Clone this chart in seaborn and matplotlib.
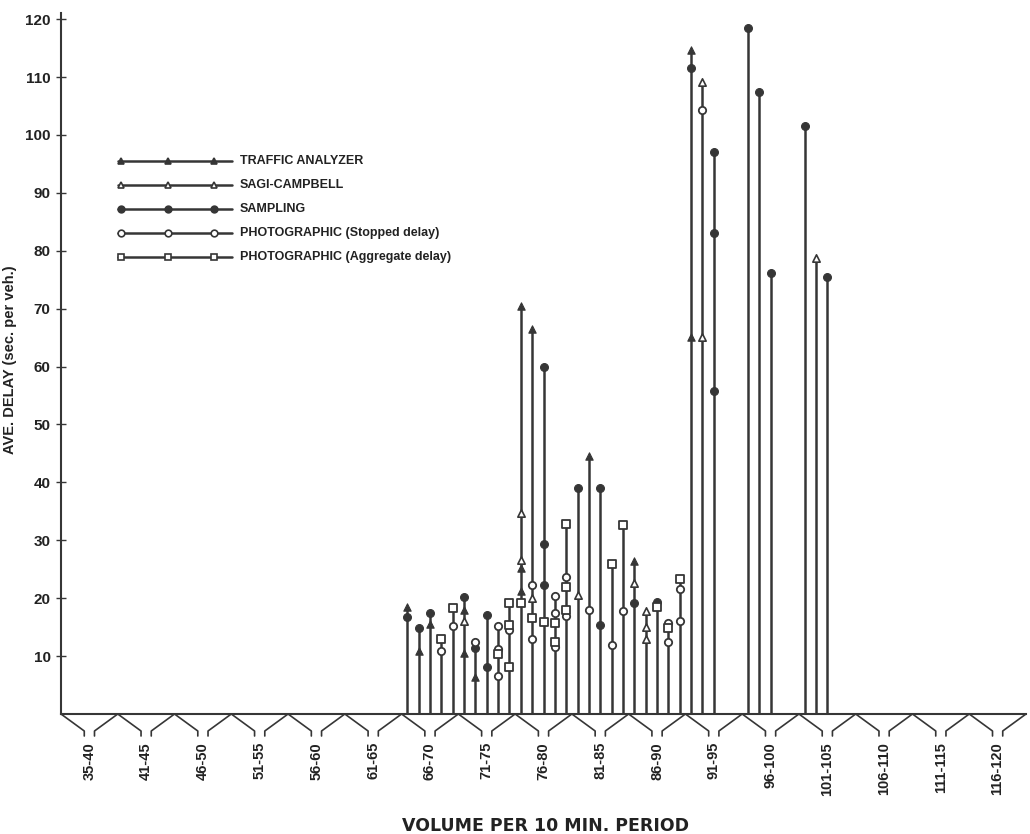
import matplotlib
matplotlib.use("Agg")
import matplotlib.pyplot as plt
from matplotlib.lines import Line2D
import pandas as pd
import seaborn as sns

# Volume ranges printed under the axis
range_labels = ["35-40", "41-45", "46-50", "51-55", "56-60", "61-65", "66-70",
                "71-75", "76-80", "81-85", "86-90", "91-95", "96-100",
                "101-105", "106-110", "111-115", "116-120"]

# Average delay (sec. per veh.) by volume per 10-min period, one pair per method
traffic_volume = [66, 67, 68, 71, 71, 72, 76, 76, 76, 77, 82, 86, 91, 91]
traffic_delay = [18.5, 10.9, 15.5, 18.0, 10.5, 6.4, 70.5, 25.2, 21.2, 66.5, 44.5, 26.4, 114.6, 65.1]

sagi_volume = [71, 76, 76, 77, 81, 86, 87, 87, 87, 92, 92, 102]
sagi_delay = [16.0, 34.7, 26.6, 20.0, 20.6, 22.6, 17.8, 15.0, 13.0, 109.2, 65.1, 78.8]

sampling_volume = [66, 67, 68, 71, 72, 73, 73, 78, 78, 78, 81, 83, 83, 86, 88,
                   91, 93, 93, 93, 96, 97, 98, 101, 103]
sampling_delay = [16.8, 14.9, 17.4, 20.2, 11.4, 17.1, 8.1, 60.0, 29.4, 22.3, 39.0, 39.0, 15.4, 19.2, 19.4,
                  111.5, 97.1, 83.1, 55.8, 118.5, 107.5, 76.2, 101.6, 75.5]

stopped_volume = [69, 70, 72, 74, 74, 74, 75, 77, 77, 79, 79, 79, 80, 80, 82, 84,
                  85, 89, 89, 90, 90, 92]
stopped_delay = [10.9, 15.2, 12.4, 15.2, 11.2, 6.6, 14.5, 22.3, 13.0, 20.4, 17.4, 11.6, 23.7, 16.9, 18.0, 11.9,
                 17.8, 15.7, 12.4, 21.6, 16.1, 104.3]

aggregate_volume = [69, 70, 74, 75, 75, 75, 76, 77, 78, 79, 79, 80, 80, 80, 84, 85, 88, 89, 90]
aggregate_delay = [13.0, 18.3, 10.4, 19.2, 15.4, 8.1, 19.2, 16.5, 15.9, 15.7, 12.4, 32.8, 21.9, 18.0,
                   25.9, 32.6, 18.5, 14.9, 23.3]

series = [
    ("TRAFFIC ANALYZER", traffic_volume, traffic_delay),
    ("SAGI-CAMPBELL", sagi_volume, sagi_delay),
    ("SAMPLING", sampling_volume, sampling_delay),
    ("PHOTOGRAPHIC (Stopped delay)", stopped_volume, stopped_delay),
    ("PHOTOGRAPHIC (Aggregate delay)", aggregate_volume, aggregate_delay),
]

ink = "#363636"
styles = {
    "TRAFFIC ANALYZER": dict(marker="^", s=28, color=ink, edgecolor=ink, linewidth=0.8),
    "SAGI-CAMPBELL": dict(marker="^", s=28, color="white", edgecolor=ink, linewidth=1.2),
    "SAMPLING": dict(marker="o", s=32, color=ink, edgecolor=ink, linewidth=0.8),
    "PHOTOGRAPHIC (Stopped delay)": dict(marker="o", s=28, color="white", edgecolor=ink, linewidth=1.3),
    "PHOTOGRAPHIC (Aggregate delay)": dict(marker="s", s=28, color="white", edgecolor=ink, linewidth=1.3),
}

frames = [pd.DataFrame({"method": name, "volume": v, "delay": d}) for name, v, d in series]
data = pd.concat(frames, ignore_index=True)
stems = data.groupby("volume", as_index=False)["delay"].max()

sns.set_theme(style="white")
plt.rcParams["font.family"] = ["Liberation Sans", "DejaVu Sans"]

W, H = 1030, 834
fig = plt.figure(figsize=(W / 100, H / 100), dpi=100)
ax_left, ax_right, ax_base, ax_top = 61, 1026, 714, 13.4
ax = fig.add_axes([ax_left / W, 1 - ax_base / H, (ax_right - ax_left) / W, (ax_base - ax_top) / H])

lo, hi = 35.5, 120.5
ax.set_xlim(lo, hi)
ax.set_ylim(0, 121)

# Vertical stems from the axis up to the largest delay at each volume
ax.vlines(stems["volume"], 0, stems["delay"], color=ink, linewidth=1.8, zorder=2)

for name, _, _ in series:
    sub = data[data["method"] == name]
    sns.scatterplot(data=sub, x="volume", y="delay", ax=ax, zorder=3, legend=False,
                    **styles[name])

# Axes styling
for side in ("top", "right"):
    ax.spines[side].set_visible(False)
for side in ("left", "bottom"):
    ax.spines[side].set_color(ink)
    ax.spines[side].set_linewidth(1.5)
ax.set_xticks([])
ax.set_yticks(range(10, 121, 10))
ax.tick_params(axis="y", direction="inout", length=7, width=1.0, color=ink,
               labelsize=11, pad=4, left=True)
for t in ax.get_yticklabels():
    t.set_fontweight("bold")
    t.set_color("#222222")
ax.set_xlabel("")
ax.set_ylabel("AVE. DELAY (sec. per veh.)", fontsize=10.5, fontweight="bold",
              color="#222222")
axis_px = ax_base - ax_top
ax.yaxis.set_label_coords((17 - ax_left) / (ax_right - ax_left), (714 - 360) / axis_px)

# Range brackets below the volume axis
drop = 17 / axis_px
leg_end = 22 / axis_px
spread = 2.05
xtr = ax.get_xaxis_transform()
edges = [lo + 5 * k for k in range(len(range_labels) + 1)]
for k, b in enumerate(edges):
    if k > 0:
        ax.plot([b, b - spread, b - spread], [0, -drop, -leg_end], color=ink,
                linewidth=1.2, transform=xtr, clip_on=False)
    if k < len(edges) - 1:
        ax.plot([b, b + spread, b + spread], [0, -drop, -leg_end], color=ink,
                linewidth=1.2, transform=xtr, clip_on=False)
for k, lab in enumerate(range_labels):
    ax.text(edges[k] + 2.5, -28 / axis_px, lab, rotation=90, ha="center", va="top",
            fontsize=10.5, fontweight="bold", color="#222222", transform=xtr)

fig.text(545 / W, 1 - 826 / H, "VOLUME PER 10 MIN. PERIOD", ha="center", va="center",
         fontsize=12.5, fontweight="bold", color="#222222", family=["DejaVu Sans"])

# Key with three sample markers per method
row_y = [161, 185, 209, 233, 257]
for (name, _, _), yy in zip(series, row_y):
    st = styles[name]
    yf = 1 - yy / H
    fig.add_artist(Line2D([118 / W, 232 / W], [yf, yf], color=ink, linewidth=1.8,
                          transform=fig.transFigure))
    fig.add_artist(Line2D([121 / W, 168 / W, 214 / W], [yf] * 3, linestyle="none",
                          marker=st["marker"], markersize=4.8,
                          markerfacecolor=st["color"], markeredgecolor=ink,
                          markeredgewidth=1.2, transform=fig.transFigure))
    fig.text(240 / W, yf, name, ha="left", va="center", fontsize=9,
             fontweight="bold", color="#222222")

fig.savefig("out.png", dpi=100, facecolor="white")
